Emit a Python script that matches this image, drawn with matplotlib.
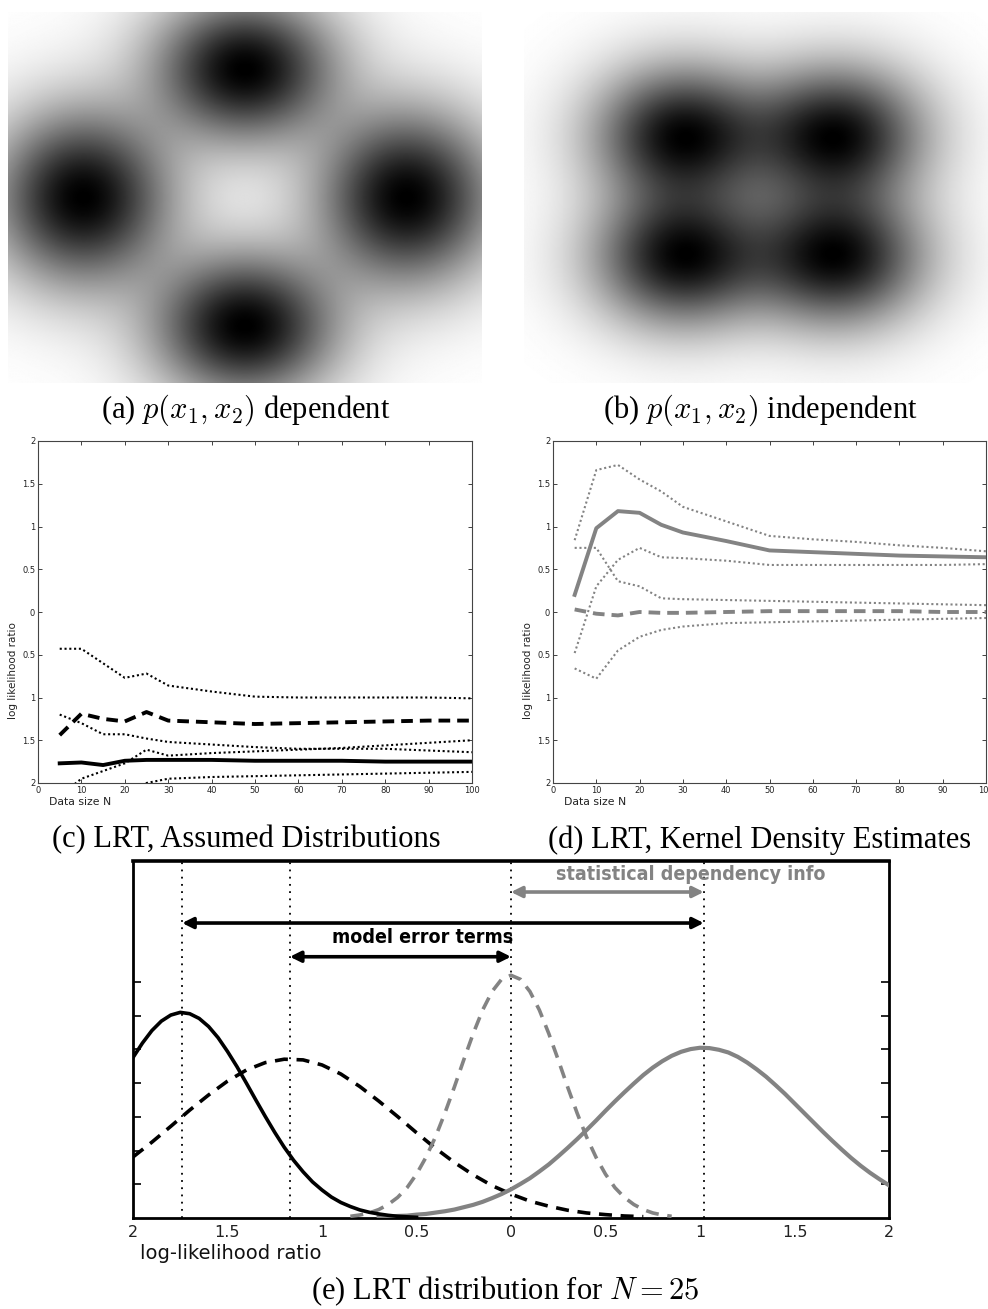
import numpy as np
import matplotlib
matplotlib.use("Agg")
import matplotlib.pyplot as plt
from matplotlib.colors import PowerNorm

plt.rcParams['mathtext.fontset'] = 'cm'
plt.rcParams['font.family'] = ['DejaVu Sans']

# ---------------- data ----------------
# (a) dependent joint density: mixture component centres / widths
A_CX = [0.0, -1.0, 1.0, 0.0]
A_CY = [1.0, 0.0, 0.0, -1.0]
A_SX = [0.36, 0.35, 0.35, 0.36]
A_SY = [0.36, 0.43, 0.43, 0.36]
# (b) independent joint density
B_CX = [-1.0, 1.0, -1.0, 1.0]
B_CY = [1.0, 1.0, -1.0, -1.0]
B_SX = [0.72, 0.72, 0.72, 0.72]
B_SY = [0.72, 0.72, 0.72, 0.72]

# (c) LRT with assumed distributions
N = [5, 10, 15, 20, 25, 30, 40, 50, 60, 70, 80, 90, 100]
c_solid = [-1.77, -1.76, -1.79, -1.74, -1.73, -1.73, -1.73, -1.74, -1.74, -1.74, -1.75, -1.75, -1.75]
c_dashed = [-1.44, -1.19, -1.25, -1.28, -1.17, -1.27, -1.29, -1.31, -1.30, -1.29, -1.28, -1.27, -1.27]
c_dot_upper = [-0.43, -0.43, -0.60, -0.77, -0.72, -0.86, -0.93, -0.99, -1.00, -1.00, -1.00, -1.00, -1.01]
c_dot_mid = [-1.20, -1.30, -1.43, -1.43, -1.48, -1.52, -1.55, -1.58, -1.60, -1.60, -1.60, -1.62, -1.64]
c_dot_low = [-2.15, -1.95, -1.86, -1.77, -1.61, -1.68, -1.65, -1.63, -1.61, -1.59, -1.56, -1.53, -1.50]
c_dot_bottom = [-2.60, -2.40, -2.25, -2.12, -2.00, -1.95, -1.93, -1.92, -1.91, -1.90, -1.89, -1.88, -1.87]

# (d) LRT with kernel density estimates
d_solid = [0.20, 0.98, 1.18, 1.16, 1.02, 0.93, 0.83, 0.72, 0.70, 0.68, 0.66, 0.65, 0.64]
d_dashed = [0.03, -0.02, -0.04, 0.00, -0.01, -0.01, 0.00, 0.01, 0.01, 0.01, 0.01, 0.00, 0.00]
d_dot_1 = [0.84, 1.66, 1.72, 1.55, 1.41, 1.23, 1.06, 0.89, 0.85, 0.82, 0.78, 0.75, 0.71]
d_dot_2 = [0.75, 0.75, 0.36, 0.30, 0.16, 0.15, 0.14, 0.13, 0.12, 0.11, 0.10, 0.09, 0.08]
d_dot_3 = [-0.48, 0.30, 0.61, 0.75, 0.64, 0.63, 0.60, 0.55, 0.55, 0.55, 0.55, 0.55, 0.56]
d_dot_4 = [-0.66, -0.78, -0.45, -0.29, -0.21, -0.17, -0.13, -0.12, -0.11, -0.10, -0.09, -0.08, -0.07]

lrt_ticks = [-2, -1.5, -1, -0.5, 0, 0.5, 1, 1.5, 2]
lrt_ticklabels = ["2", "1.5", "1", "0.5", "0", "0.5", "1", "1.5", "2"]
n_ticks = [0, 10, 20, 30, 40, 50, 60, 70, 80, 90, 100]

# (e) LRT distributions at N = 25
e_black_solid_range = (-2.0, -0.5)
e_black_solid = [0.476, 0.519, 0.556, 0.584, 0.602, 0.610, 0.606, 0.592, 0.568, 0.535,
                 0.494, 0.449, 0.400, 0.350, 0.301, 0.254, 0.210, 0.171, 0.137, 0.107,
                 0.083, 0.062, 0.046, 0.034, 0.024, 0.017, 0.012, 0.008, 0.005, 0.0035,
                 0.002]
e_black_dashed_range = (-2.0, 0.7)
e_black_dashed = [0.181, 0.225, 0.272, 0.320, 0.365, 0.406, 0.439, 0.461, 0.471, 0.469,
                  0.454, 0.427, 0.390, 0.347, 0.301, 0.253, 0.207, 0.165, 0.128, 0.096,
                  0.071, 0.050, 0.035, 0.023, 0.015, 0.010, 0.006, 0.004]
e_gray_dashed_range = (-0.85, 0.85)
e_gray_dashed = [0.005, 0.009, 0.015, 0.025, 0.040, 0.061, 0.090, 0.130, 0.180, 0.240,
                 0.311, 0.388, 0.469, 0.547, 0.617, 0.672, 0.708, 0.720, 0.708, 0.672,
                 0.617, 0.547, 0.469, 0.388, 0.311, 0.240, 0.180, 0.130, 0.090, 0.061,
                 0.040, 0.025, 0.015, 0.009, 0.005]
e_gray_solid_range = (-0.7, 2.0)
e_gray_solid = [0.003, 0.004, 0.006, 0.007, 0.010, 0.012, 0.016, 0.020, 0.025, 0.032,
                0.039, 0.048, 0.059, 0.071, 0.085, 0.101, 0.118, 0.138, 0.159, 0.183,
                0.208, 0.234, 0.261, 0.289, 0.318, 0.346, 0.373, 0.399, 0.424, 0.446,
                0.465, 0.481, 0.493, 0.501, 0.505, 0.504, 0.499, 0.491, 0.478, 0.461,
                0.441, 0.419, 0.394, 0.368, 0.340, 0.312, 0.284, 0.256, 0.229, 0.203,
                0.178, 0.155, 0.134, 0.115, 0.097]
e_modes = [-1.74, -1.17, 0.0, 1.02]
e_yticks = [0.1, 0.2, 0.3, 0.4, 0.5, 0.6, 0.7]

captions = ["(a) $p(x_1, x_2)$ dependent", "(b) $p(x_1, x_2)$ independent",
            "(c) LRT, Assumed Distributions", "(d) LRT, Kernel Density Estimates",
            "(e) LRT distribution for $N = 25$"]

GRAY = "#838383"
W, H = 988.0, 1309.0


def px_axes(fig, left, top, right, bottom):
    return fig.add_axes([left / W, 1 - bottom / H, (right - left) / W, (bottom - top) / H])


def mixture(xx, yy, cx, cy, sx, sy):
    z = np.zeros_like(xx)
    for a, b, s, t in zip(cx, cy, sx, sy):
        z += np.exp(-((xx - a) ** 2 / (2 * s * s) + (yy - b) ** 2 / (2 * t * t)))
    return z


fig = plt.figure(figsize=(9.88, 13.09), dpi=100)

# ---------- (a) ----------
axa = px_axes(fig, 8, 12, 482, 383)
xa = np.linspace(-1.46, 1.46, 500)
ya = np.linspace(-1.44, 1.44, 400)
XA, YA = np.meshgrid(xa, ya)
ZA = mixture(XA, YA, A_CX, A_CY, A_SX, A_SY)
axa.imshow(ZA, extent=[-1.46, 1.46, -1.44, 1.44], origin='lower', cmap='gray_r',
           norm=PowerNorm(gamma=0.8, vmin=0, vmax=ZA.max()), aspect='auto',
           interpolation='bilinear')
axa.axis('off')

# ---------- (b) ----------
axb = px_axes(fig, 524, 12, 988, 383)
xb = np.linspace(-3.04, 2.95, 500)
yb = np.linspace(-3.07, 3.02, 400)
XB, YB = np.meshgrid(xb, yb)
ZB = mixture(XB, YB, B_CX, B_CY, B_SX, B_SY)
axb.imshow(ZB, extent=[-3.04, 2.95, -3.07, 3.02], origin='lower', cmap='gray_r',
           norm=PowerNorm(gamma=0.8, vmin=0, vmax=ZB.max()), aspect='auto',
           interpolation='bilinear')
axb.axis('off')


def style_lrt_axes(ax):
    ax.set_xlim(0, 100)
    ax.set_ylim(-2, 2)
    ax.set_xticks(n_ticks)
    ax.set_yticks(lrt_ticks)
    ax.set_yticklabels(lrt_ticklabels)
    ax.tick_params(direction='in', top=True, right=True, length=3, width=0.6,
                   labelsize=6, pad=2, colors='#222222')
    for s in ax.spines.values():
        s.set_linewidth(0.8)
        s.set_color('#444444')
    ax.text(0.025, -0.056, "Data size N", transform=ax.transAxes, fontsize=7.8,
            ha='left', va='center', color='#222222')
    ax.text(-0.058, 0.33, "log likelihood ratio", transform=ax.transAxes, fontsize=7.5,
            rotation=90, ha='center', va='center', color='#222222')


DOT = (0, (1, 1.3))

# ---------- (c) ----------
axc = px_axes(fig, 38, 441, 472, 783)
for arr in [c_dot_upper, c_dot_mid, c_dot_low, c_dot_bottom]:
    axc.plot(N, arr, color='k', lw=1.5, ls=DOT)
axc.plot(N, c_dashed, color='k', lw=2.8, ls=(0, (3.0, 1.8)))
axc.plot(N, c_solid, color='k', lw=2.8)
style_lrt_axes(axc)

# ---------- (d) ----------
axd = px_axes(fig, 553, 441, 986, 783)
for arr in [d_dot_1, d_dot_2, d_dot_3, d_dot_4]:
    axd.plot(N, arr, color=GRAY, lw=1.5, ls=DOT)
axd.plot(N, d_dashed, color=GRAY, lw=2.8, ls=(0, (3.0, 1.8)))
axd.plot(N, d_solid, color=GRAY, lw=2.8)
style_lrt_axes(axd)

# ---------- (e) ----------
axe = px_axes(fig, 133, 861, 889, 1218)
axe.set_xlim(-2, 2)
axe.set_ylim(0, 1.059)
for m in e_modes:
    axe.axvline(m, color='k', lw=1.3, ls=(0, (1, 3)), zorder=1)


def xs(rng, vals):
    return np.linspace(rng[0], rng[1], len(vals))


axe.plot(xs(e_black_dashed_range, e_black_dashed), e_black_dashed, color='k', lw=2.6,
         ls=(0, (3.6, 2.4)), zorder=3)
axe.plot(xs(e_gray_dashed_range, e_gray_dashed), e_gray_dashed, color=GRAY, lw=2.6,
         ls=(0, (3.6, 2.4)), zorder=3)
axe.plot(xs(e_gray_solid_range, e_gray_solid), e_gray_solid, color=GRAY, lw=3.0, zorder=3)
axe.plot(xs(e_black_solid_range, e_black_solid), e_black_solid, color='k', lw=2.6, zorder=4)

arrow_k = dict(arrowstyle='<|-|>', color='k', lw=2.6, mutation_scale=16, shrinkA=0, shrinkB=0)
arrow_g = dict(arrowstyle='<|-|>', color=GRAY, lw=2.6, mutation_scale=16, shrinkA=0, shrinkB=0)
axe.annotate('', xy=(e_modes[3], 0.967), xytext=(e_modes[2], 0.967), arrowprops=arrow_g)
axe.annotate('', xy=(e_modes[3], 0.875), xytext=(e_modes[0], 0.875), arrowprops=arrow_k)
axe.annotate('', xy=(e_modes[2], 0.775), xytext=(e_modes[1], 0.775), arrowprops=arrow_k)
axe.text(0.95, 1.018, "statistical dependency info", color=GRAY, fontsize=14,
         fontweight='bold', fontstretch='condensed', ha='center', va='center')
axe.text(-0.47, 0.831, "model error terms", color='k', fontsize=14,
         fontweight='bold', fontstretch='condensed', ha='center', va='center')

axe.set_xticks(lrt_ticks)
axe.set_xticklabels(lrt_ticklabels)
axe.set_yticks(e_yticks)
axe.set_yticklabels([])
axe.tick_params(axis='y', direction='in', left=True, right=True, length=6, width=1.2)
axe.tick_params(axis='x', direction='in', length=0, labelsize=11.5, pad=5, colors='#222222')
for s in axe.spines.values():
    s.set_linewidth(2.0)
axe.spines['top'].set_linewidth(2.6)
axe.text(0.009, -0.1, "log-likelihood ratio", transform=axe.transAxes, fontsize=14,
         ha='left', va='center', color='#111111')

# ---------- captions ----------
cap_kw = dict(fontsize=22, family='Liberation Serif', ha='center', va='center')
fig.text(246 / W, 1 - 410 / H, captions[0], **cap_kw)
fig.text(760 / W, 1 - 410 / H, captions[1], **cap_kw)
fig.text(246 / W, 1 - 840 / H, captions[2], **cap_kw)
fig.text(760 / W, 1 - 840 / H, captions[3], **cap_kw)
fig.text(505 / W, 1 - 1291 / H, captions[4], **cap_kw)

fig.savefig("out.png", dpi=100, facecolor='white')
